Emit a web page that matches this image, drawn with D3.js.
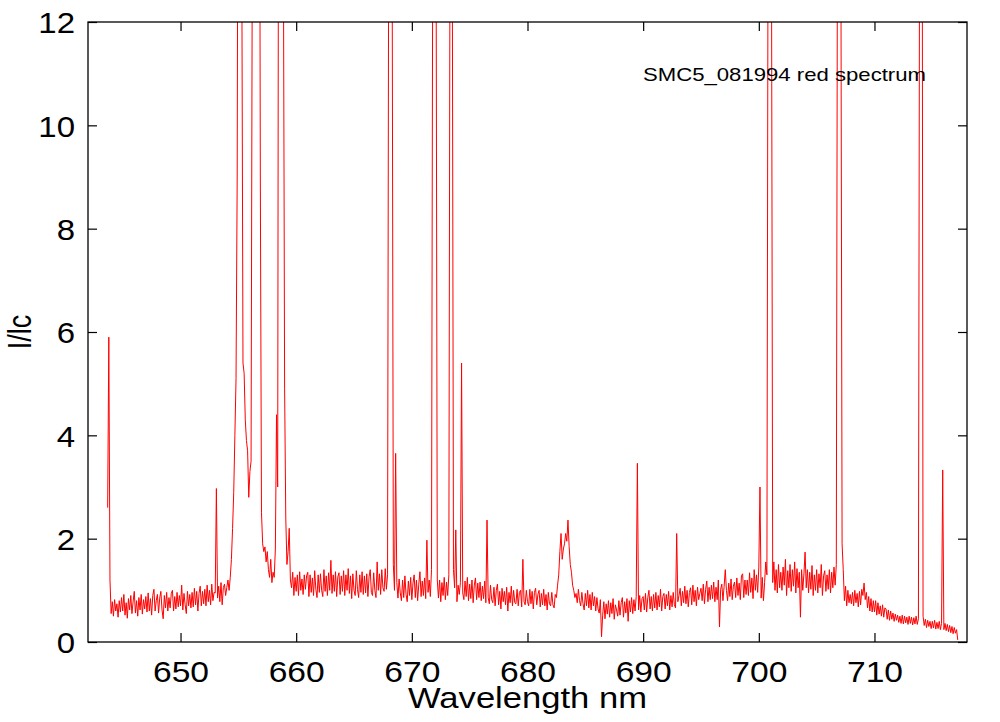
<!DOCTYPE html>
<html>
<head>
<meta charset="utf-8">
<script src="https://cdn.jsdelivr.net/npm/d3@7"></script>
<style>
  html, body { margin: 0; padding: 0; background: #fff; }
  svg { display: block; }
  text { font-family: "Liberation Sans", Arial, Helvetica, sans-serif; fill: #000; }
</style>
</head>
<body>
<svg id="chart" width="1000" height="722"></svg>
<script>
// ---- data -------------------------------------------------------------
const chartLabel = "SMC5_081994 red spectrum";
const xTitle = "Wavelength nm";
const yTitle = "I/lc";
const xTicks = [650, 660, 670, 680, 690, 700, 710];
const yTicks = [0, 2, 4, 6, 8, 10, 12];
const xDomain = [642, 718];
const yDomain = [0, 12];

// sampling grid of the spectrum (nm)
const wavelengthStart = 643.7;
const wavelengthStep = 0.1;

// I/Ic, one row per nm (values above 12 are clipped lines)
const intensity = [
  /*643.7*/ 2.6, 5.9, 1.2,
  /*644*/ 0.55, 0.78, 0.5, 0.82, 0.6, 0.74, 0.48, 0.8, 0.58, 0.86,
  /*645*/ 0.6, 0.92, 0.52, 0.76, 0.46, 0.84, 0.62, 0.9, 0.55, 0.78,
  /*646*/ 0.98, 0.56, 0.8, 0.5, 0.86, 0.62, 0.92, 0.54, 0.82, 0.64,
  /*647*/ 0.88, 0.58, 0.95, 0.6, 0.84, 0.52, 0.9, 1.02, 0.6, 0.8,
  /*648*/ 0.92, 0.56, 0.85, 0.98, 0.62, 0.45, 0.9, 0.66, 0.96, 0.6,
  /*649*/ 0.86, 0.66, 0.94, 1.0, 0.6, 0.88, 0.64, 0.96, 0.68, 0.9,
  /*650*/ 0.7, 1.1, 0.62, 0.94, 0.72, 0.55, 0.98, 0.7, 0.92, 0.66,
  /*651*/ 0.96, 0.68, 1.04, 0.72, 0.98, 0.6, 0.94, 1.08, 0.7, 0.98,
  /*652*/ 0.74, 1.02, 0.7, 1.1, 0.78, 1.0, 0.72, 1.12, 0.8, 0.96,
  /*653*/ 0.95, 2.97, 0.85, 1.08, 0.78, 1.15, 0.72, 1.05, 1.12, 0.9,
  /*654*/ 1.05, 1.2, 1.0, 1.25, 1.6, 2.2, 2.9, 4.0, 5.1, 9.0,
  /*655*/ 20, 30, 25, 13, 5.4, 5.2, 4.3, 3.9, 3.7, 2.8,
  /*656*/ 3.3, 3.5, 13, 40, 60, 70, 60, 40, 20, 9.0,
  /*657*/ 2.5, 1.9, 1.75, 1.84, 1.55, 1.75, 1.4, 1.25, 1.6, 1.15,
  /*658*/ 1.35, 1.25, 1.8, 4.4, 3.0, 20, 40, 45, 30, 13,
  /*659*/ 4.9, 2.4, 1.5, 1.75, 2.2, 1.2, 1.05, 1.35, 0.9, 1.25,
  /*660*/ 0.98, 1.3, 0.9, 1.36, 1.0, 1.22, 0.92, 1.3, 1.02, 1.28,
  /*661*/ 1.35, 0.88, 1.3, 0.96, 1.24, 0.9, 1.38, 1.02, 0.86, 1.3,
  /*662*/ 0.96, 1.32, 1.0, 0.88, 1.4, 0.98, 1.28, 0.9, 1.34, 1.0,
  /*663*/ 1.58, 0.94, 1.3, 0.98, 1.36, 0.88, 1.26, 1.34, 0.92, 1.28,
  /*664*/ 0.98, 1.38, 0.9, 1.3, 1.0, 1.42, 0.94, 1.28, 0.84, 1.32,
  /*665*/ 1.0, 0.9, 1.38, 1.02, 0.86, 1.3, 0.96, 1.36, 0.92, 1.28,
  /*666*/ 0.95, 1.32, 0.88, 1.26, 1.4, 0.96, 0.9, 1.34, 1.0, 0.86,
  /*667*/ 1.55, 1.0, 1.32, 0.92, 1.4, 1.05, 0.98, 1.42, 1.02, 1.3,
  /*668*/ 14, 25, 22, 13, 1.5, 1.0, 3.65, 1.15, 0.85, 1.22,
  /*669*/ 0.95, 0.8, 1.2, 0.86, 1.28, 0.92, 0.78, 1.18, 0.9, 1.25,
  /*670*/ 0.82, 1.14, 1.3, 0.86, 1.2, 0.8, 1.12, 1.36, 0.88, 1.18,
  /*671*/ 0.9, 1.24, 0.84, 1.97, 0.96, 1.2, 0.88, 1.4, 13, 30,
  /*672*/ 28, 13, 1.2, 0.85, 1.2, 0.78, 1.15, 0.9, 1.25, 0.82,
  /*673*/ 1.16, 0.9, 1.3, 14, 30, 13, 1.4, 1.05, 2.17, 0.78,
  /*674*/ 1.1, 0.92, 1.15, 5.4, 0.95, 0.82, 1.18, 0.88, 1.25, 0.8,
  /*675*/ 1.12, 0.84, 1.2, 0.76, 1.1, 1.24, 0.82, 1.14, 0.86, 1.16,
  /*676*/ 0.8, 1.08, 0.84, 1.18, 0.76, 2.36, 0.86, 0.74, 1.1, 0.82,
  /*677*/ 0.76, 1.06, 0.7, 1.0, 1.12, 0.72, 0.98, 0.64, 1.04, 0.78,
  /*678*/ 0.98, 0.72, 1.06, 0.6, 0.96, 0.76, 1.08, 0.7, 1.0, 0.76,
  /*679*/ 0.74, 1.02, 0.7, 0.96, 1.0, 0.68, 1.6, 0.78, 0.72, 1.0,
  /*680*/ 0.78, 0.7, 1.02, 0.74, 0.98, 0.64, 0.96, 1.04, 0.72, 0.92,
  /*681*/ 1.0, 0.68, 0.94, 0.72, 1.02, 0.7, 0.92, 0.62, 0.96, 0.74,
  /*682*/ 0.7, 0.96, 0.72, 0.66, 0.92, 0.86, 1.1, 1.3, 1.75, 2.1,
  /*683*/ 1.6, 1.8, 1.9, 2.1, 1.95, 2.36, 1.85, 1.5, 1.35, 1.1,
  /*684*/ 1.0, 0.86, 0.94, 0.76, 1.02, 0.8, 0.7, 0.96, 0.74, 0.62,
  /*685*/ 0.94, 0.7, 1.0, 0.66, 0.92, 0.62, 0.96, 0.7, 0.88, 0.6,
  /*686*/ 0.86, 0.64, 0.56, 0.82, 0.1, 0.52, 0.78, 0.45, 0.74, 0.54,
  /*687*/ 0.8, 0.48, 0.76, 0.55, 0.84, 0.44, 0.72, 0.62, 0.5, 0.8,
  /*688*/ 0.52, 0.76, 0.86, 0.48, 0.78, 0.56, 0.84, 0.4, 0.8, 0.58,
  /*689*/ 0.86, 0.55, 0.82, 0.6, 0.88, 3.46, 0.62, 0.9, 0.58, 0.84,
  /*690*/ 0.88, 0.62, 0.94, 0.58, 0.86, 1.0, 0.64, 0.88, 0.6, 0.92,
  /*691*/ 0.66, 0.96, 0.62, 0.9, 0.68, 1.02, 0.6, 0.88, 0.94, 0.64,
  /*692*/ 0.92, 0.7, 0.98, 0.62, 0.9, 0.68, 0.96, 0.72, 0.66, 2.1,
  /*693*/ 0.78, 0.9, 1.04, 0.7, 0.98, 0.76, 1.08, 0.74, 1.0, 0.68,
  /*694*/ 0.96, 1.05, 0.72, 1.1, 0.78, 1.0, 0.7, 1.06, 0.82, 0.94,
  /*695*/ 1.04, 0.8, 1.12, 0.74, 1.02, 1.18, 0.78, 1.06, 0.82, 1.1,
  /*696*/ 0.84, 1.16, 0.78, 1.06, 0.82, 1.2, 0.29, 1.02, 1.12, 0.8,
  /*697*/ 1.08, 1.4, 1.0, 0.8, 1.14, 0.88, 1.22, 0.82, 1.08, 1.16,
  /*698*/ 0.86, 1.24, 0.9, 1.14, 0.82, 1.28, 1.32, 0.86, 1.2, 0.92,
  /*699*/ 1.2, 0.9, 1.34, 0.96, 1.24, 0.84, 1.4, 1.0, 1.3, 0.96,
  /*700*/ 1.45, 3.0, 0.85, 1.25, 0.8, 1.15, 1.55, 1.3, 14, 30,
  /*701*/ 25, 13, 1.15, 1.55, 1.0, 1.4, 0.95, 1.5, 1.05, 1.35,
  /*702*/ 1.0, 1.45, 1.1, 1.6, 0.9, 1.38, 1.05, 1.5, 0.98, 1.4,
  /*703*/ 1.08, 1.55, 0.95, 1.42, 1.05, 1.35, 0.48, 1.4, 1.0, 1.32,
  /*704*/ 1.74, 1.05, 1.4, 0.95, 1.35, 1.02, 1.48, 0.9, 1.3, 1.0,
  /*705*/ 1.4, 0.95, 1.32, 1.05, 1.5, 0.9, 1.28, 1.38, 0.98, 1.3,
  /*706*/ 1.02, 1.4, 0.95, 1.35, 1.05, 1.45, 1.1, 1.5, 14, 30,
  /*707*/ 28, 13, 1.9, 1.4, 0.8, 1.08, 0.7, 1.0, 0.76, 0.92,
  /*708*/ 0.74, 0.96, 0.7, 1.0, 0.76, 0.94, 0.68, 0.98, 0.72, 1.02,
  /*709*/ 0.9, 1.14, 0.82, 0.96, 0.66, 0.88, 0.6, 0.84, 0.58, 0.8,
  /*710*/ 0.58, 0.8, 0.52, 0.76, 0.54, 0.7, 0.5, 0.72, 0.48, 0.66,
  /*711*/ 0.64, 0.44, 0.62, 0.42, 0.6, 0.44, 0.56, 0.4, 0.54, 0.42,
  /*712*/ 0.52, 0.38, 0.5, 0.36, 0.52, 0.35, 0.5, 0.37, 0.48, 0.34,
  /*713*/ 0.5, 0.36, 0.48, 0.33, 0.47, 0.35, 0.5, 0.34, 0.45, 14,
  /*714*/ 30, 20, 0.5, 0.32, 0.44, 0.28, 0.42, 0.3, 0.4, 0.26,
  /*715*/ 0.4, 0.27, 0.42, 0.25, 0.38, 0.26, 0.4, 0.24, 0.36, 3.33,
  /*716*/ 0.24, 0.36, 0.22, 0.34, 0.2, 0.32, 0.18, 0.3, 0.16, 0.28,
  /*717*/ 0.17, 0.24, 0.04
];

// ---- drawing ----------------------------------------------------------
const margin = { left: 88, right: 33, top: 22, bottom: 80 };
const W = 1000, H = 722;
const svg = d3.select("#chart");

const x = d3.scaleLinear().domain(xDomain).range([margin.left, W - margin.right]);
const y = d3.scaleLinear().domain(yDomain).range([H - margin.bottom, margin.top]);

const spectrum = intensity.map((v, i) => ({
  wl: Math.round((wavelengthStart + i * wavelengthStep) * 10) / 10,
  v: v
}));

svg.append("defs").append("clipPath").attr("id", "plotClip")
  .append("rect")
  .attr("x", x.range()[0]).attr("y", y.range()[1])
  .attr("width", x.range()[1] - x.range()[0])
  .attr("height", y.range()[0] - y.range()[1]);

const line = d3.line().x(d => x(d.wl)).y(d => y(d.v));
svg.append("path")
  .datum(spectrum)
  .attr("clip-path", "url(#plotClip)")
  .attr("fill", "none")
  .attr("stroke", "#ff0000")
  .attr("stroke-width", 1)
  .attr("stroke-linejoin", "round")
  .attr("d", line);

const tickLen = 9;
const FONT = 30;
function stretch(sel, factor) {
  sel.each(function () {
    const len = this.getComputedTextLength();
    d3.select(this).attr("textLength", len * factor).attr("lengthAdjust", "spacingAndGlyphs");
  });
}

// bottom axis
const gB = svg.append("g").attr("transform", `translate(0,${y.range()[0]})`)
  .call(d3.axisBottom(x).tickValues(xTicks).tickSizeInner(-tickLen).tickSizeOuter(0).tickFormat(d3.format("d")));
gB.selectAll("text").attr("y", 40).attr("dy", null)
  .style("font-size", FONT + "px").attr("font-family", null);
stretch(gB.selectAll("text"), 1.12);

// top axis (mirror ticks)
svg.append("g").attr("transform", `translate(0,${y.range()[1]})`)
  .call(d3.axisTop(x).tickValues(xTicks).tickSizeInner(-tickLen).tickSizeOuter(0).tickFormat(""));

// left axis
const gL = svg.append("g").attr("transform", `translate(${x.range()[0]},0)`)
  .call(d3.axisLeft(y).tickValues(yTicks).tickSizeInner(-tickLen).tickSizeOuter(0).tickFormat(d3.format("d")));
gL.selectAll("text").attr("x", -13).attr("dy", "0.36em")
  .style("font-size", FONT + "px").attr("font-family", null);
stretch(gL.selectAll("text"), 1.1);

// right axis (mirror ticks)
svg.append("g").attr("transform", `translate(${x.range()[1]},0)`)
  .call(d3.axisRight(y).tickValues(yTicks).tickSizeInner(-tickLen).tickSizeOuter(0).tickFormat(""));

svg.selectAll(".domain").remove();
svg.selectAll(".tick line").attr("stroke", "#000").attr("stroke-width", 1.2);

// frame
svg.append("rect")
  .attr("x", x.range()[0]).attr("y", y.range()[1])
  .attr("width", x.range()[1] - x.range()[0])
  .attr("height", y.range()[0] - y.range()[1])
  .attr("fill", "none").attr("stroke", "#000").attr("stroke-width", 1.3);

// axis titles
svg.append("text")
  .attr("x", (x.range()[0] + x.range()[1]) / 2).attr("y", 708)
  .attr("text-anchor", "middle")
  .style("font-size", "29px")
  .attr("textLength", 239).attr("lengthAdjust", "spacingAndGlyphs")
  .text(xTitle);

svg.append("text")
  .attr("transform", `translate(31,${(y.range()[0] + y.range()[1]) / 2}) scale(1.2,1) rotate(-90)`)
  .attr("text-anchor", "middle")
  .style("font-size", "27px")
  .text(yTitle);

// chart label
svg.append("text")
  .attr("x", 643).attr("y", 81)
  .style("font-size", "19px")
  .attr("textLength", 283).attr("lengthAdjust", "spacingAndGlyphs")
  .text(chartLabel);
</script>
</body>
</html>
